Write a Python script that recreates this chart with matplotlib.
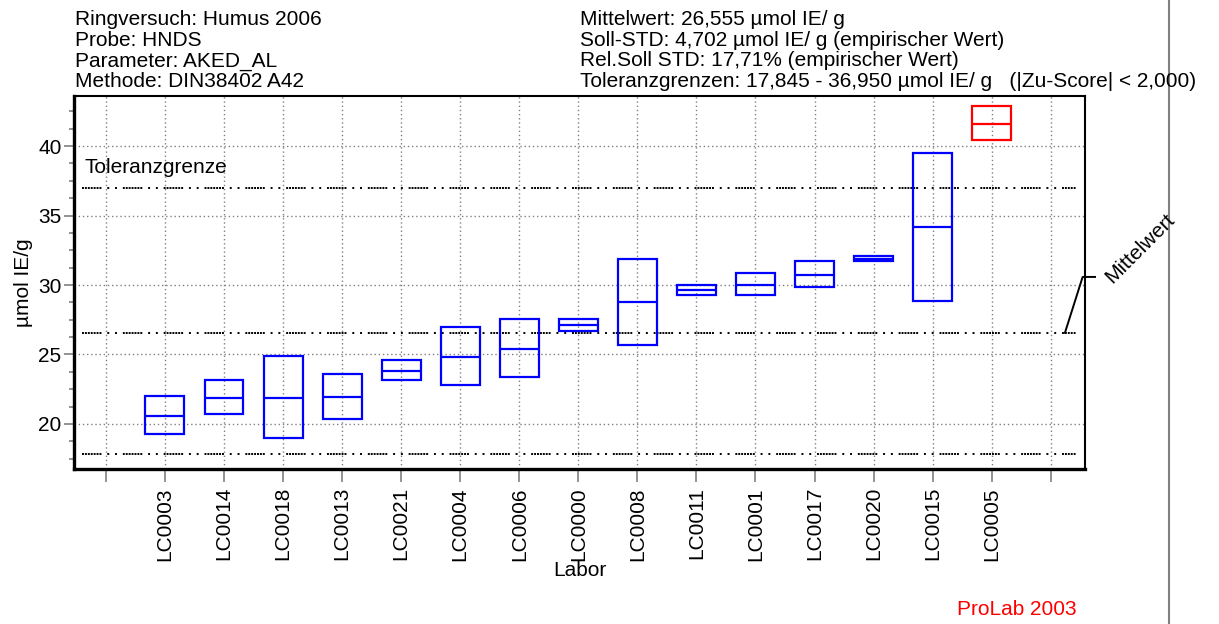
"""
Ringversuch box plot: lab results with tolerance limits and mean.
"""

import matplotlib
matplotlib.use("Agg")
import matplotlib.pyplot as plt
from matplotlib.ticker import MultipleLocator, FixedLocator

plt.rcParams['font.family'] = ['Liberation Sans', 'DejaVu Sans']

labs = ['LC0003', 'LC0014', 'LC0018', 'LC0013', 'LC0021', 'LC0004', 'LC0006',
        'LC0000', 'LC0008', 'LC0011', 'LC0001', 'LC0017', 'LC0020', 'LC0015',
        'LC0005']
low = [19.3, 20.75, 19.0, 20.35, 23.17, 22.8, 23.4, 26.7, 25.7, 29.28, 29.28,
       29.86, 31.73, 28.85, 40.4]
median = [20.6, 21.9, 21.9, 21.94, 23.8, 24.8, 25.4, 27.1, 28.8, 29.64, 30.0,
          30.72, 31.87, 34.2, 41.6]
high = [22.03, 23.17, 24.9, 23.6, 24.6, 26.98, 27.55, 27.55, 31.9, 30.0, 30.86,
        31.73, 32.09, 39.5, 42.9]
outlier = [False] * 14 + [True]

mean_value = 26.555
tol_low, tol_high = 17.845, 36.950

header_left = ["Ringversuch: Humus 2006", "Probe: HNDS",
               "Parameter: AKED_AL", "Methode: DIN38402 A42"]
header_right = ["Mittelwert: 26,555 µmol IE/ g",
                "Soll-STD: 4,702 µmol IE/ g (empirischer Wert)",
                "Rel.Soll STD: 17,71% (empirischer Wert)",
                "Toleranzgrenzen: 17,845 - 36,950 µmol IE/ g   (|Zu-Score| < 2,000)"]

FS = 15

fig = plt.figure(figsize=(12.19, 6.24), dpi=100)
ax = fig.add_axes([74 / 1219, 1 - 469 / 624, 1011 / 1219, 373 / 624])

# boxes: one per lab, positions 1..15 (0 and 16 are empty slots)
pos = list(range(1, len(labs) + 1))
colors = ['#ff0000' if o else '#0000ff' for o in outlier]
heights = [h - l for h, l in zip(high, low)]
ax.bar(pos, heights, bottom=low, width=0.66, fill=False,
       edgecolor=colors, linewidth=1.6, zorder=3)
ax.hlines(median, [p - 0.33 for p in pos], [p + 0.33 for p in pos],
          colors=colors, linewidth=1.6, zorder=3)

# tolerance limits and mean
ref_style = (0, (1, 0.5, 1, 0.5, 1, 0.5, 1, 0.5, 1, 0.5, 1, 0.5, 1, 3,
                 1, 3, 1, 3))
for yv in (tol_low, mean_value, tol_high):
    ax.plot([-0.4, 16.42], [yv, yv], color='black', linewidth=1.4,
            linestyle=ref_style, zorder=2)

ax.text(-0.36, 38.45, "Toleranzgrenze", fontsize=FS, va='center')

# leader line to the mean label
ax.plot([16.24, 16.54, 16.75], [mean_value, 30.58, 30.58], color='black',
        linewidth=1.4, clip_on=False, zorder=4)
fig.text(1112 / 1219, 1 - 284 / 624, "Mittelwert", fontsize=FS,
         rotation=45, rotation_mode='anchor', ha='left', va='baseline')

ax.set_xlim(-0.54, 16.58)
ax.set_ylim(16.76, 43.6)

ax.xaxis.set_major_locator(FixedLocator(range(0, 17)))
ax.set_xticklabels([''] + labs + [''], rotation=90, fontsize=FS)
ax.yaxis.set_major_locator(MultipleLocator(5))
ax.yaxis.set_minor_locator(MultipleLocator(1.25))
ax.tick_params(axis='x', length=9, width=1.2, color='#808080', pad=4)
ax.tick_params(axis='y', which='major', length=7, width=1.2, color='#808080',
               labelsize=FS, pad=2)
ax.tick_params(axis='y', which='minor', length=3.6, width=1.2, color='#808080')

ax.grid(True, which='major', color='#808080', linestyle=(0, (1, 2)),
        linewidth=1.0, zorder=1)
ax.set_axisbelow(True)

for side, lw in (('left', 2.4), ('bottom', 2.4), ('top', 1.5), ('right', 1.5)):
    ax.spines[side].set_linewidth(lw)
    ax.spines[side].set_color('black')

ax.set_xlabel("Labor", fontsize=FS, labelpad=0)
ax.set_ylabel("µmol IE/g", fontsize=FS, labelpad=4)

# header block
for i, line in enumerate(header_left):
    fig.text(75 / 1219, 1 - (25 + 20.7 * i) / 624, line, fontsize=FS,
             va='baseline')
for i, line in enumerate(header_right):
    fig.text(580 / 1219, 1 - (25 + 20.7 * i) / 624, line, fontsize=FS,
             va='baseline')

fig.text(1077 / 1219, 1 - 615 / 624, "ProLab 2003", fontsize=FS,
         color='#ff0000', ha='right', va='baseline')

# right-hand separator
fig.add_artist(plt.Line2D([1169 / 1219, 1169 / 1219], [0, 1],
                          color='#808080', linewidth=1.5))

fig.savefig("out.png", dpi=100)
